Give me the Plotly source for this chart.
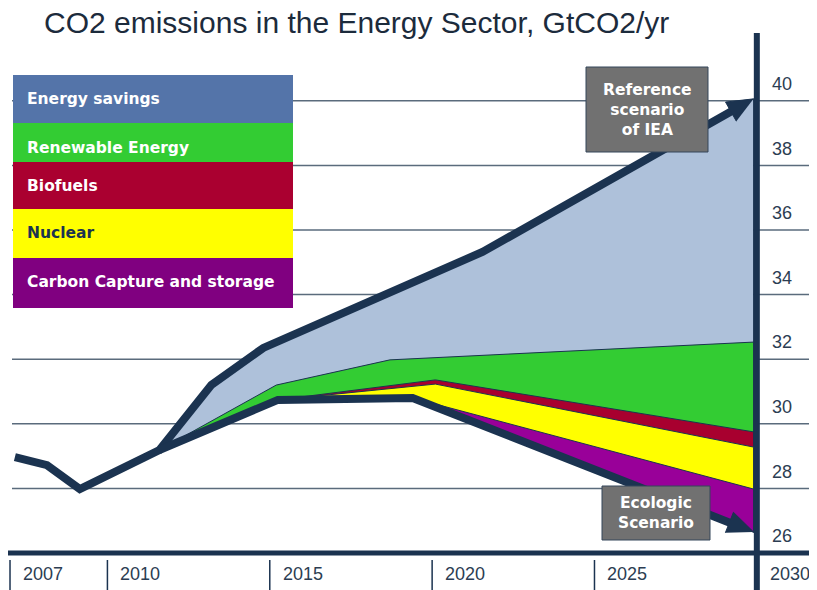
import math
import plotly.graph_objects as go

# ---------------- data ----------------
hist_years = [2007.15, 2008.14, 2009.15, 2011.6]
hist_vals = [28.97, 28.72, 27.98, 29.19]

ref_years = [2011.6, 2013.2, 2014.8, 2021.55, 2029.9]
ref_vals = [29.19, 31.2, 32.35, 35.32, 40.06]

eco_years = [2011.6, 2015.25, 2019.4, 2029.9]
eco_vals = [29.19, 30.74, 30.8, 26.65]

savings_bottom_years = [2011.6, 2015.2, 2018.7, 2029.9]
savings_bottom_vals = [29.19, 31.2, 31.98, 32.53]

renew_bottom_years = [2011.6, 2015.25, 2020.1, 2029.9]
renew_bottom_vals = [29.19, 30.74, 31.36, 29.75]

biofuel_bottom_years = [2011.6, 2015.25, 2020.1, 2029.9]
biofuel_bottom_vals = [29.19, 30.74, 31.23, 29.28]

nuclear_bottom_years = [2019.4, 2029.9]
nuclear_bottom_vals = [30.8, 27.98]

y_ticks = [26, 28, 30, 32, 34, 36, 38, 40]
x_ticks = [2007, 2010, 2015, 2020, 2025, 2030]

legend_labels = ["Energy savings", "Renewable Energy", "Biofuels", "Nuclear",
                 "Carbon Capture and storage"]
legend_colors = ["#5474a9", "#33cc33", "#aa0030", "#ffff00", "#800080"]
area_colors = ["#aec1da", "#33cc33", "#a8002f", "#ffff00", "#990099"]

title_text = "CO2 emissions in the Energy Sector, GtCO2/yr"

# ---------------- styling / geometry ----------------
# the page body has an 8px margin, so the figure starts 8px in from the window corner
OFF = 8
W, H = 809, 582
XR = [2006.938, 2031.853]
YR = [24.855, 42.873]
XS = W / (XR[1] - XR[0])   # px per year
YS = H / (YR[1] - YR[0])   # px per GtCO2

DARK = "#1b3350"
GRID = "#5a6b7c"
NARROW = "Liberation Sans, Arial, sans-serif"
BOLD = "DejaVu Sans, Verdana, sans-serif"


def px(x):
    return (x - OFF) / W


def py(y):
    return 1 - (y - OFF) / H


def arrow_parts(xs, ys, length=26, width=22):
    """Arrow head triangle at the last point (tip) and a trimmed line end."""
    x0, y0, x1, y1 = xs[-2], ys[-2], xs[-1], ys[-1]
    dx, dy = (x1 - x0) * XS, (y1 - y0) * YS
    d = math.hypot(dx, dy)
    ux, uy = dx / d, dy / d
    nx, ny = -uy, ux
    bx, by = -ux * length, -uy * length
    tri = [(0, 0), (bx + nx * width / 2, by + ny * width / 2),
           (bx - nx * width / 2, by - ny * width / 2)]
    tx = [x1 + p / XS for p, q in tri]
    ty = [y1 + q / YS for p, q in tri]
    end = (x1 + 0.8 * bx / XS, y1 + 0.8 * by / YS)
    return tx, ty, end


fig = go.Figure()

# stacked wedges, each drawn from its top boundary down to the ecologic line
tops = [
    (ref_years, ref_vals),
    (savings_bottom_years, savings_bottom_vals),
    (renew_bottom_years, renew_bottom_vals),
    (biofuel_bottom_years, biofuel_bottom_vals),
    (nuclear_bottom_years, nuclear_bottom_vals),
]
for (tx, ty), col, name in zip(tops, area_colors, legend_labels):
    start = tx[0]
    bx = [x for x in eco_years if x >= start]
    by = [v for x, v in zip(eco_years, eco_vals) if x >= start]
    fig.add_trace(go.Scatter(
        x=list(tx) + bx[::-1], y=list(ty) + by[::-1],
        mode="lines", fill="toself", fillcolor=col,
        line=dict(color=DARK, width=1), name=name, showlegend=False,
        hoverinfo="skip"))

# thick scenario lines with arrow heads
line_x = hist_years + ref_years[1:]
line_y = hist_vals + ref_vals[1:]
for xs, ys, nm in [(line_x, line_y, "Reference scenario of IEA"),
                   (eco_years, eco_vals, "Ecologic Scenario")]:
    tri_x, tri_y, end = arrow_parts(xs, ys)
    fig.add_trace(go.Scatter(
        x=list(xs[:-1]) + [end[0]], y=list(ys[:-1]) + [end[1]], mode="lines",
        line=dict(color=DARK, width=8), showlegend=False, name=nm, hoverinfo="skip"))
    fig.add_trace(go.Scatter(
        x=tri_x, y=tri_y, mode="lines", fill="toself", fillcolor=DARK,
        line=dict(color=DARK, width=1), showlegend=False, hoverinfo="skip"))

shapes = []
annotations = []

# horizontal grid lines
for v in y_ticks[1:]:
    shapes.append(dict(type="line", xref="paper", yref="y", x0=px(12), x1=1,
                       y0=v, y1=v, line=dict(color=GRID, width=1.5), layer="below"))
# bottom axis
shapes.append(dict(type="line", xref="paper", yref="y", x0=0, x1=1,
                   y0=y_ticks[0], y1=y_ticks[0], line=dict(color=DARK, width=5),
                   layer="above"))
# right (value) axis
shapes.append(dict(type="line", xref="x", yref="paper", x0=x_ticks[-1], x1=x_ticks[-1],
                   y0=0, y1=py(33), line=dict(color=DARK, width=6), layer="above"))
# year separators
for yr in x_ticks[:-1]:
    shapes.append(dict(type="line", xref="x", yref="paper", x0=yr, x1=yr,
                       y0=0, y1=py(560), line=dict(color=DARK, width=1.5), layer="above"))

# value labels
for v in y_ticks:
    annotations.append(dict(x=px(770), y=v + 0.52, xref="paper", yref="y",
                            text=str(v), showarrow=False, xanchor="left", yanchor="middle",
                            font=dict(family=NARROW, size=18, color="#2c3d52")))
# year labels
for yr in x_ticks:
    annotations.append(dict(x=yr, y=py(574), xref="x", yref="paper", xshift=11,
                            text=str(yr), showarrow=False, xanchor="left", yanchor="middle",
                            font=dict(family=NARROW, size=18, color="#2c3d52")))

# title
annotations.append(dict(x=px(42), y=py(22), xref="paper", yref="paper", text=title_text,
                        showarrow=False, xanchor="left", yanchor="middle",
                        font=dict(family=NARROW, size=30, color="#1c2b3c")))

# legend block
row_edges = [75, 123, 162, 209, 258, 308]
text_y = [99, 148, 186, 233, 282]
for i, (lab, col) in enumerate(zip(legend_labels, legend_colors)):
    shapes.append(dict(type="rect", xref="paper", yref="paper",
                       x0=px(13), x1=px(293), y0=py(row_edges[i + 1]), y1=py(row_edges[i]),
                       fillcolor=col, line=dict(width=0), layer="above"))
    tcol = DARK if col == "#ffff00" else "white"
    annotations.append(dict(x=px(25), y=py(text_y[i]), xref="paper", yref="paper",
                            text="<b>%s</b>" % lab, showarrow=False, xanchor="left",
                            yanchor="middle", font=dict(family=BOLD, size=15.5, color=tcol)))

# scenario boxes
boxes = [
    ("Reference<br>scenario<br>of IEA", 586, 708, 67, 152),
    ("Ecologic<br>Scenario", 602, 710, 486, 540),
]
for txt, x0, x1, y0, y1 in boxes:
    shapes.append(dict(type="rect", xref="paper", yref="paper", x0=px(x0), x1=px(x1),
                       y0=py(y1), y1=py(y0), fillcolor="#717171",
                       line=dict(color="#34465a", width=1), layer="above"))
    annotations.append(dict(x=px((x0 + x1) / 2), y=py((y0 + y1) / 2), xref="paper",
                            yref="paper", text="<b>%s</b>" % txt, showarrow=False,
                            xanchor="center", yanchor="middle", align="center",
                            font=dict(family=BOLD, size=15.5, color="white")))

fig.update_layout(
    width=W, height=H, margin=dict(l=0, r=0, t=0, b=0),
    paper_bgcolor="white", plot_bgcolor="white",
    xaxis=dict(range=XR, visible=False, fixedrange=True),
    yaxis=dict(range=YR, visible=False, fixedrange=True),
    shapes=shapes, annotations=annotations, showlegend=False,
)

fig.write_html("out.html")
